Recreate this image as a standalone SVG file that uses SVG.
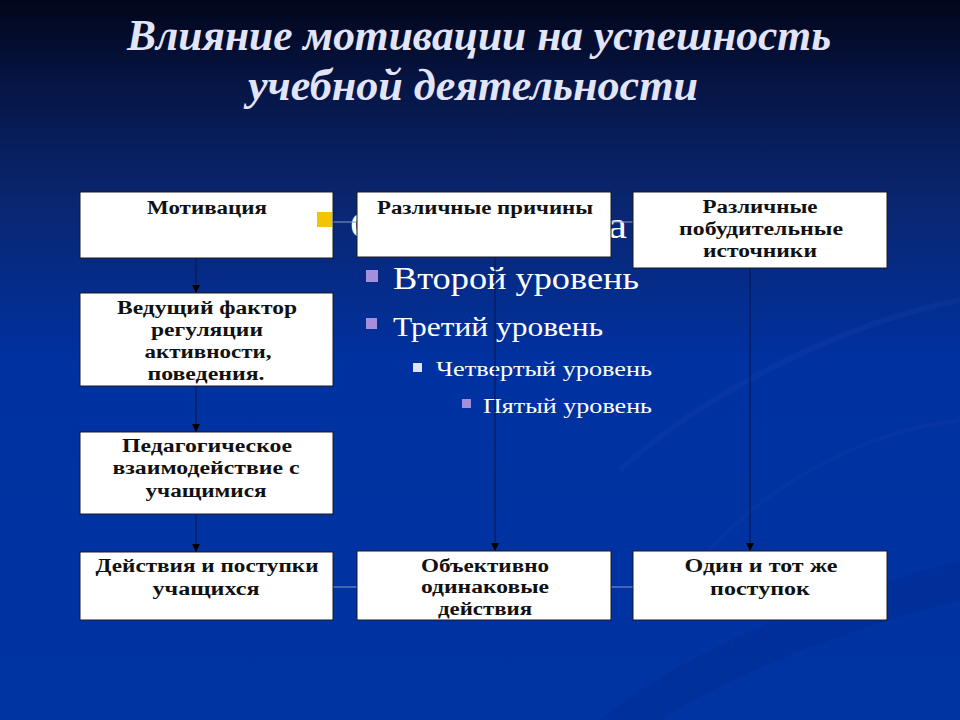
<svg xmlns="http://www.w3.org/2000/svg" width="960" height="720" viewBox="0 0 960 720">
<defs>
<linearGradient id="bg" x1="0" y1="0" x2="0" y2="1">
<stop offset="0" stop-color="#03061a"/>
<stop offset="0.12" stop-color="#061545"/>
<stop offset="0.28" stop-color="#0a2670"/>
<stop offset="0.5" stop-color="#0031a0"/>
<stop offset="1" stop-color="#0034a2"/>
</linearGradient>
<marker id="arr" viewBox="0 0 8 8" refX="8" refY="4" markerWidth="8" markerHeight="8" markerUnits="userSpaceOnUse" orient="auto">
<path d="M0,0 L8,4 L0,8 z" fill="#000"/>
</marker>
<style>
.box{fill:#fff;stroke:#1a1a1a;stroke-width:1}
.bt{font-family:"Liberation Serif","Times New Roman",serif;font-weight:bold;font-size:18px;fill:#111;text-anchor:middle}
.title{font-family:"Liberation Serif","Times New Roman",serif;font-weight:bold;font-style:italic;font-size:44px;fill:#e2e5f8}
.ph{font-family:"Liberation Serif","Times New Roman",serif;fill:#fff}
.vl{stroke:#0d1a55;stroke-width:1.2;fill:none;marker-end:url(#arr)}
.hl{stroke:#8a9acc;stroke-width:1;fill:none}
</style>
</defs>
<rect width="960" height="720" fill="url(#bg)"/>
<path d="M600,720 C700,640 820,600 960,560 L960,600 C840,630 720,680 660,720 z" fill="#002a90" opacity="0.4"/>
<path d="M620,470 C720,380 860,320 960,300" stroke="#3050b8" stroke-width="6" fill="none" opacity="0.15"/>
<path d="M700,560 C780,470 880,430 960,420" stroke="#3050b8" stroke-width="4" fill="none" opacity="0.12"/>

<g id="title">
<text class="title" x="127" y="50" textLength="704" lengthAdjust="spacingAndGlyphs">Влияние мотивации на успешность</text>
<text class="title" x="248" y="100" textLength="450" lengthAdjust="spacingAndGlyphs">учебной деятельности</text>
</g>

<g id="placeholder">
<text class="ph" x="350" y="238" font-size="38" textLength="277" lengthAdjust="spacingAndGlyphs">Образец текста</text>
<rect x="366" y="270" width="12" height="12" fill="#a48fdc"/>
<text class="ph" x="393" y="289" font-size="31" textLength="246" lengthAdjust="spacingAndGlyphs">Второй уровень</text>
<rect x="366" y="318" width="11" height="11" fill="#a48fdc"/>
<text class="ph" x="393" y="336" font-size="27" textLength="210" lengthAdjust="spacingAndGlyphs">Третий уровень</text>
<rect x="413" y="363" width="9" height="9" fill="#e2e4f4"/>
<text class="ph" x="436" y="376" font-size="22" textLength="216" lengthAdjust="spacingAndGlyphs">Четвертый уровень</text>
<rect x="462" y="399" width="9" height="9" fill="#a48fdc"/>
<text class="ph" x="483" y="413" font-size="22" textLength="169" lengthAdjust="spacingAndGlyphs">Пятый уровень</text>
</g>

<g id="connectors">
<line class="hl" x1="333" y1="222" x2="357" y2="222"/>
<line class="hl" x1="611" y1="222" x2="633" y2="222"/>
<line class="hl" x1="333" y1="587" x2="357" y2="587"/>
<line class="hl" x1="611" y1="587" x2="633" y2="587"/>
<path class="vl" d="M196,258 V293"/>
<path class="vl" d="M196,386 V432"/>
<path class="vl" d="M196,514 V552"/>
<path class="vl" d="M495,257 V551"/>
<path class="vl" d="M750,268 V551"/>
</g>

<g id="n1">
<rect class="box" x="80" y="192" width="253" height="66"/>
<text class="bt" x="207" y="214" textLength="120" lengthAdjust="spacingAndGlyphs">Мотивация</text>
</g>
<g id="bullet1">
<rect x="317" y="212" width="15" height="15" fill="#f5c400"/>
</g>
<g id="n2">
<rect class="box" x="357" y="192" width="254" height="65"/>
<text class="bt" x="485" y="214" textLength="216" lengthAdjust="spacingAndGlyphs">Различные причины</text>
</g>
<g id="n3">
<rect class="box" x="633" y="192" width="254" height="76"/>
<text class="bt" x="760" y="213" textLength="115" lengthAdjust="spacingAndGlyphs">Различные</text>
<text class="bt" x="761" y="235" textLength="164" lengthAdjust="spacingAndGlyphs">побудительные</text>
<text class="bt" x="760" y="257" textLength="114" lengthAdjust="spacingAndGlyphs">источники</text>
</g>
<g id="n4">
<rect class="box" x="80" y="293" width="253" height="93"/>
<text class="bt" x="207" y="314" textLength="180" lengthAdjust="spacingAndGlyphs">Ведущий фактор</text>
<text class="bt" x="207" y="336" textLength="112" lengthAdjust="spacingAndGlyphs">регуляции</text>
<text class="bt" x="208" y="358" textLength="127" lengthAdjust="spacingAndGlyphs">активности,</text>
<text class="bt" x="206" y="380" textLength="117" lengthAdjust="spacingAndGlyphs">поведения.</text>
</g>
<g id="n5">
<rect class="box" x="80" y="432" width="253" height="82"/>
<text class="bt" x="207" y="452" textLength="170" lengthAdjust="spacingAndGlyphs">Педагогическое</text>
<text class="bt" x="206" y="474" textLength="187" lengthAdjust="spacingAndGlyphs">взаимодействие с</text>
<text class="bt" x="206" y="497" textLength="121" lengthAdjust="spacingAndGlyphs">учащимися</text>
</g>
<g id="n6">
<rect class="box" x="80" y="552" width="253" height="68"/>
<text class="bt" x="207" y="572" textLength="223" lengthAdjust="spacingAndGlyphs">Действия и поступки</text>
<text class="bt" x="206" y="595" textLength="107" lengthAdjust="spacingAndGlyphs">учащихся</text>
</g>
<g id="n7">
<rect class="box" x="357" y="551" width="254" height="69"/>
<text class="bt" x="485" y="572" textLength="128" lengthAdjust="spacingAndGlyphs">Объективно</text>
<text class="bt" x="485" y="593" textLength="128" lengthAdjust="spacingAndGlyphs">одинаковые</text>
<text class="bt" x="485" y="615" textLength="94" lengthAdjust="spacingAndGlyphs">действия</text>
</g>
<g id="n8">
<rect class="box" x="633" y="551" width="254" height="69"/>
<text class="bt" x="761" y="572" textLength="153" lengthAdjust="spacingAndGlyphs">Один и тот же</text>
<text class="bt" x="760" y="595" textLength="100" lengthAdjust="spacingAndGlyphs">поступок</text>
</g>
</svg>
